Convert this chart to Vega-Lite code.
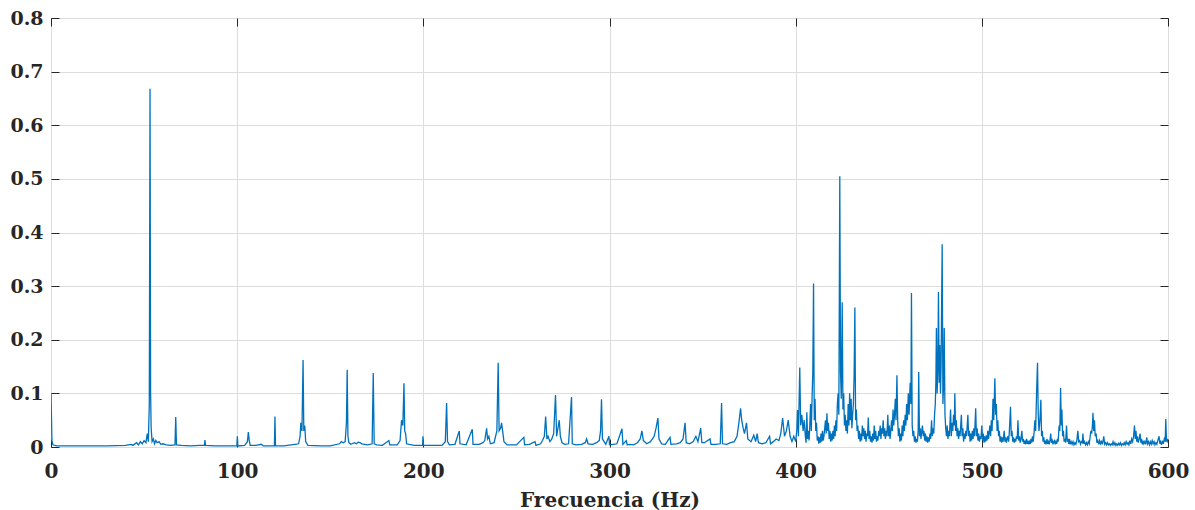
{
"$schema": "https://vega.github.io/schema/vega-lite/v6.json",
"width": 1117, "height": 429,
"autosize": {"type": "none"},
"padding": {"left": 51, "top": 18, "right": 27, "bottom": 63},
"background": "white",
"config": {"view": {"stroke": "#262626", "strokeWidth": 1}, "font": "DejaVu Serif"},
"data": {"values": [
{"f":0,"a":0.1},{"f":0.5,"a":0.012},{"f":1,"a":0.004},{"f":3,"a":0.002},{"f":10,"a":0.002},{"f":20,"a":0.002},{"f":30,"a":0.002},{"f":40,"a":0.003},{"f":43,"a":0.005},{"f":44,"a":0.003},{"f":46,"a":0.008},{"f":47,"a":0.004},{"f":48,"a":0.01},{"f":49,"a":0.006},{"f":50,"a":0.012},{"f":51,"a":0.008},{"f":51.7,"a":0.025},{"f":52.3,"a":0.01},{"f":52.8,"a":0.08},{"f":53.2,"a":0.668},{"f":53.5,"a":0.1},{"f":53.8,"a":0.035},{"f":54.3,"a":0.01},{"f":55,"a":0.015},{"f":55.6,"a":0.006},{"f":56.3,"a":0.012},{"f":57,"a":0.008},{"f":58,"a":0.01},{"f":59,"a":0.005},{"f":60,"a":0.006},{"f":62,"a":0.004},{"f":64,"a":0.003},{"f":66.6,"a":0.004},{"f":67,"a":0.056},{"f":67.4,"a":0.004},{"f":70,"a":0.003},{"f":75,"a":0.002},{"f":80,"a":0.003},{"f":82.4,"a":0.003},{"f":82.7,"a":0.013},{"f":83,"a":0.003},{"f":88,"a":0.002},{"f":95,"a":0.002},{"f":99.8,"a":0.002},{"f":100.1,"a":0.02},{"f":100.4,"a":0.002},{"f":104,"a":0.003},{"f":105.5,"a":0.01},{"f":106,"a":0.028},{"f":106.5,"a":0.012},{"f":107,"a":0.003},{"f":110,"a":0.003},{"f":113,"a":0.005},{"f":114,"a":0.002},{"f":118,"a":0.002},{"f":120,"a":0.002},{"f":120.3,"a":0.057},{"f":120.6,"a":0.002},{"f":125,"a":0.002},{"f":129,"a":0.004},{"f":131,"a":0.005},{"f":133,"a":0.006},{"f":133.8,"a":0.02},{"f":134.2,"a":0.045},{"f":134.8,"a":0.03},{"f":135.4,"a":0.162},{"f":135.8,"a":0.03},{"f":136.3,"a":0.04},{"f":136.8,"a":0.01},{"f":138,"a":0.003},{"f":145,"a":0.002},{"f":150,"a":0.002},{"f":155,"a":0.006},{"f":156,"a":0.01},{"f":157,"a":0.008},{"f":158,"a":0.01},{"f":158.7,"a":0.045},{"f":159.1,"a":0.144},{"f":159.5,"a":0.02},{"f":160,"a":0.008},{"f":161,"a":0.005},{"f":163,"a":0.008},{"f":164,"a":0.006},{"f":165,"a":0.009},{"f":166,"a":0.008},{"f":167,"a":0.006},{"f":170,"a":0.004},{"f":172.5,"a":0.006},{"f":173.1,"a":0.138},{"f":173.6,"a":0.006},{"f":175,"a":0.004},{"f":178,"a":0.003},{"f":181.5,"a":0.012},{"f":182,"a":0.004},{"f":186,"a":0.004},{"f":187.5,"a":0.012},{"f":188.3,"a":0.05},{"f":189,"a":0.04},{"f":189.6,"a":0.119},{"f":190,"a":0.03},{"f":190.5,"a":0.025},{"f":191,"a":0.006},{"f":195,"a":0.003},{"f":199.6,"a":0.003},{"f":199.8,"a":0.02},{"f":200.1,"a":0.003},{"f":205,"a":0.003},{"f":210,"a":0.003},{"f":211.8,"a":0.01},{"f":212.5,"a":0.082},{"f":213,"a":0.01},{"f":214,"a":0.004},{"f":217,"a":0.005},{"f":219.3,"a":0.03},{"f":219.7,"a":0.006},{"f":223,"a":0.004},{"f":226.3,"a":0.033},{"f":226.7,"a":0.005},{"f":230,"a":0.005},{"f":232,"a":0.008},{"f":233,"a":0.012},{"f":234,"a":0.035},{"f":234.5,"a":0.015},{"f":235.2,"a":0.02},{"f":236,"a":0.006},{"f":238,"a":0.008},{"f":239.5,"a":0.03},{"f":240.2,"a":0.157},{"f":240.7,"a":0.03},{"f":241.5,"a":0.035},{"f":242,"a":0.045},{"f":242.6,"a":0.03},{"f":243.3,"a":0.01},{"f":245,"a":0.004},{"f":250,"a":0.004},{"f":254,"a":0.018},{"f":254.4,"a":0.004},{"f":257,"a":0.005},{"f":260,"a":0.01},{"f":260.5,"a":0.003},{"f":263,"a":0.006},{"f":264,"a":0.012},{"f":265,"a":0.02},{"f":265.7,"a":0.057},{"f":266.4,"a":0.015},{"f":267,"a":0.02},{"f":268,"a":0.01},{"f":269,"a":0.015},{"f":270,"a":0.025},{"f":271,"a":0.097},{"f":271.6,"a":0.02},{"f":272.3,"a":0.035},{"f":273,"a":0.05},{"f":273.6,"a":0.02},{"f":274.5,"a":0.008},{"f":276,"a":0.005},{"f":278,"a":0.006},{"f":279.6,"a":0.093},{"f":280,"a":0.006},{"f":282,"a":0.004},{"f":285,"a":0.005},{"f":287,"a":0.008},{"f":287.7,"a":0.015},{"f":288.5,"a":0.006},{"f":291,"a":0.005},{"f":293,"a":0.008},{"f":294.5,"a":0.012},{"f":295.2,"a":0.03},{"f":295.7,"a":0.089},{"f":296.2,"a":0.015},{"f":298,"a":0.005},{"f":299.7,"a":0.02},{"f":300,"a":0.004},{"f":302,"a":0.005},{"f":304,"a":0.006},{"f":306.7,"a":0.034},{"f":307.2,"a":0.005},{"f":309,"a":0.012},{"f":309.5,"a":0.004},{"f":311,"a":0.005},{"f":313,"a":0.004},{"f":315,"a":0.008},{"f":316.5,"a":0.015},{"f":317.4,"a":0.03},{"f":318.2,"a":0.012},{"f":320,"a":0.006},{"f":322,"a":0.01},{"f":324,"a":0.02},{"f":325,"a":0.035},{"f":326,"a":0.054},{"f":326.6,"a":0.015},{"f":328,"a":0.006},{"f":330,"a":0.005},{"f":332.5,"a":0.018},{"f":333,"a":0.005},{"f":336,"a":0.006},{"f":338,"a":0.008},{"f":339.5,"a":0.015},{"f":340.6,"a":0.045},{"f":341.2,"a":0.008},{"f":343,"a":0.006},{"f":345,"a":0.01},{"f":346.4,"a":0.02},{"f":347.5,"a":0.01},{"f":349,"a":0.035},{"f":349.6,"a":0.008},{"f":351,"a":0.008},{"f":354,"a":0.015},{"f":354.5,"a":0.005},{"f":357,"a":0.005},{"f":359.5,"a":0.006},{"f":360.2,"a":0.082},{"f":360.7,"a":0.006},{"f":363,"a":0.005},{"f":365,"a":0.008},{"f":367,"a":0.01},{"f":368.5,"a":0.02},{"f":369.5,"a":0.045},{"f":370.4,"a":0.072},{"f":371,"a":0.05},{"f":371.8,"a":0.035},{"f":372.5,"a":0.025},{"f":373.6,"a":0.045},{"f":374.3,"a":0.015},{"f":376,"a":0.01},{"f":377.5,"a":0.022},{"f":378.5,"a":0.01},{"f":379.3,"a":0.025},{"f":380,"a":0.008},{"f":382,"a":0.006},{"f":384,"a":0.008},{"f":386,"a":0.02},{"f":386.5,"a":0.006},{"f":388,"a":0.01},{"f":389.5,"a":0.015},{"f":391,"a":0.012},{"f":392,"a":0.025},{"f":393,"a":0.054},{"f":394,"a":0.02},{"f":395,"a":0.03},{"f":396,"a":0.05},{"f":397,"a":0.02},{"f":398,"a":0.01},{"f":399,"a":0.02},{"f":400,"a":0.01},{"f":400.6,"a":0.03},{"f":401,"a":0.069},{"f":401.5,"a":0.02},{"f":402.2,"a":0.148},{"f":402.7,"a":0.04},{"f":403.3,"a":0.06},{"f":404,"a":0.03},{"f":404.6,"a":0.05},{"f":405.2,"a":0.02},{"f":405.6,"a":0.008},{"f":406,"a":0.065},{"f":406.4,"a":0.015},{"f":406.8,"a":0.03},{"f":407.2,"a":0.012},{"f":407.6,"a":0.04},{"f":408,"a":0.08},{"f":408.4,"a":0.03},{"f":408.8,"a":0.09},{"f":409.2,"a":0.138},{"f":409.6,"a":0.305},{"f":410,"a":0.05},{"f":410.4,"a":0.09},{"f":410.8,"a":0.03},{"f":411.2,"a":0.045},{"f":411.6,"a":0.012},{"f":412,"a":0.02},{"f":412.4,"a":0.006},{"f":412.8,"a":0.018},{"f":413.2,"a":0.008},{"f":413.6,"a":0.025},{"f":414,"a":0.01},{"f":414.4,"a":0.03},{"f":414.8,"a":0.012},{"f":415.2,"a":0.02},{"f":415.6,"a":0.035},{"f":416,"a":0.05},{"f":416.4,"a":0.025},{"f":416.8,"a":0.063},{"f":417.2,"a":0.03},{"f":417.6,"a":0.045},{"f":418,"a":0.015},{"f":418.4,"a":0.03},{"f":418.8,"a":0.01},{"f":419.2,"a":0.025},{"f":419.6,"a":0.012},{"f":420,"a":0.03},{"f":420.4,"a":0.015},{"f":420.8,"a":0.04},{"f":421.2,"a":0.02},{"f":421.6,"a":0.05},{"f":422,"a":0.03},{"f":422.4,"a":0.08},{"f":422.8,"a":0.1},{"f":423.2,"a":0.06},{"f":423.7,"a":0.505},{"f":424.1,"a":0.14},{"f":424.5,"a":0.09},{"f":425,"a":0.27},{"f":425.4,"a":0.07},{"f":425.8,"a":0.1},{"f":426.2,"a":0.04},{"f":426.6,"a":0.06},{"f":427,"a":0.03},{"f":427.4,"a":0.05},{"f":427.8,"a":0.025},{"f":428.2,"a":0.08},{"f":428.6,"a":0.04},{"f":429,"a":0.1},{"f":429.4,"a":0.05},{"f":429.8,"a":0.09},{"f":430.2,"a":0.035},{"f":430.6,"a":0.06},{"f":431,"a":0.08},{"f":431.4,"a":0.135},{"f":431.8,"a":0.26},{"f":432.2,"a":0.05},{"f":432.6,"a":0.07},{"f":433,"a":0.03},{"f":433.4,"a":0.04},{"f":433.8,"a":0.015},{"f":434.2,"a":0.03},{"f":434.6,"a":0.01},{"f":435,"a":0.025},{"f":435.4,"a":0.012},{"f":435.8,"a":0.04},{"f":436.2,"a":0.02},{"f":436.6,"a":0.035},{"f":437,"a":0.015},{"f":437.4,"a":0.03},{"f":437.8,"a":0.01},{"f":438.2,"a":0.025},{"f":438.6,"a":0.02},{"f":439,"a":0.055},{"f":439.4,"a":0.015},{"f":439.8,"a":0.03},{"f":440.2,"a":0.01},{"f":440.6,"a":0.02},{"f":441,"a":0.008},{"f":441.4,"a":0.025},{"f":441.8,"a":0.012},{"f":442.2,"a":0.04},{"f":442.6,"a":0.015},{"f":443,"a":0.03},{"f":443.4,"a":0.01},{"f":443.8,"a":0.02},{"f":444.2,"a":0.012},{"f":444.6,"a":0.03},{"f":445,"a":0.02},{"f":445.4,"a":0.04},{"f":445.8,"a":0.015},{"f":446.2,"a":0.035},{"f":446.6,"a":0.025},{"f":447,"a":0.05},{"f":447.4,"a":0.02},{"f":447.8,"a":0.035},{"f":448.2,"a":0.015},{"f":448.6,"a":0.03},{"f":449,"a":0.02},{"f":449.5,"a":0.06},{"f":449.9,"a":0.02},{"f":450.3,"a":0.04},{"f":450.7,"a":0.015},{"f":451.1,"a":0.03},{"f":451.5,"a":0.05},{"f":451.9,"a":0.03},{"f":452.3,"a":0.07},{"f":452.7,"a":0.04},{"f":453.1,"a":0.06},{"f":453.5,"a":0.09},{"f":453.9,"a":0.05},{"f":454.4,"a":0.134},{"f":454.8,"a":0.05},{"f":455.2,"a":0.02},{"f":455.6,"a":0.035},{"f":456,"a":0.01},{"f":456.4,"a":0.025},{"f":456.8,"a":0.012},{"f":457.2,"a":0.04},{"f":457.6,"a":0.02},{"f":458,"a":0.05},{"f":458.4,"a":0.03},{"f":458.8,"a":0.06},{"f":459.2,"a":0.04},{"f":459.6,"a":0.08},{"f":460,"a":0.05},{"f":460.5,"a":0.1},{"f":460.9,"a":0.06},{"f":461.5,"a":0.12},{"f":461.9,"a":0.08},{"f":462.2,"a":0.287},{"f":462.6,"a":0.04},{"f":463,"a":0.02},{"f":463.4,"a":0.03},{"f":463.8,"a":0.01},{"f":464.2,"a":0.02},{"f":464.6,"a":0.008},{"f":465,"a":0.015},{"f":465.4,"a":0.01},{"f":465.8,"a":0.03},{"f":466.1,"a":0.14},{"f":466.5,"a":0.02},{"f":466.9,"a":0.035},{"f":467.3,"a":0.015},{"f":467.7,"a":0.03},{"f":468.1,"a":0.04},{"f":468.5,"a":0.02},{"f":468.9,"a":0.03},{"f":469.3,"a":0.012},{"f":469.7,"a":0.025},{"f":470.1,"a":0.01},{"f":470.5,"a":0.02},{"f":470.9,"a":0.008},{"f":471.3,"a":0.018},{"f":471.7,"a":0.01},{"f":472.1,"a":0.025},{"f":472.5,"a":0.015},{"f":473,"a":0.05},{"f":473.4,"a":0.02},{"f":473.8,"a":0.035},{"f":474.2,"a":0.025},{"f":474.6,"a":0.06},{"f":475,"a":0.08},{"f":475.3,"a":0.12},{"f":475.6,"a":0.222},{"f":476,"a":0.1},{"f":476.4,"a":0.15},{"f":476.7,"a":0.289},{"f":477.1,"a":0.12},{"f":477.4,"a":0.19},{"f":477.8,"a":0.1},{"f":478.1,"a":0.15},{"f":478.7,"a":0.378},{"f":479.1,"a":0.08},{"f":479.5,"a":0.12},{"f":479.8,"a":0.222},{"f":480.2,"a":0.06},{"f":480.6,"a":0.035},{"f":481,"a":0.02},{"f":481.4,"a":0.04},{"f":481.8,"a":0.015},{"f":482.2,"a":0.03},{"f":482.6,"a":0.02},{"f":483.2,"a":0.07},{"f":483.6,"a":0.02},{"f":484,"a":0.045},{"f":484.4,"a":0.03},{"f":484.8,"a":0.06},{"f":485.2,"a":0.04},{"f":485.5,"a":0.1},{"f":485.9,"a":0.03},{"f":486.3,"a":0.05},{"f":486.7,"a":0.02},{"f":487.1,"a":0.035},{"f":487.5,"a":0.015},{"f":487.9,"a":0.03},{"f":488.3,"a":0.02},{"f":489,"a":0.06},{"f":489.4,"a":0.02},{"f":489.8,"a":0.035},{"f":490.2,"a":0.01},{"f":490.6,"a":0.025},{"f":491,"a":0.015},{"f":491.4,"a":0.03},{"f":491.8,"a":0.02},{"f":492.5,"a":0.06},{"f":492.9,"a":0.02},{"f":493.3,"a":0.03},{"f":493.7,"a":0.01},{"f":494.1,"a":0.025},{"f":494.5,"a":0.012},{"f":494.9,"a":0.03},{"f":495.3,"a":0.015},{"f":495.7,"a":0.035},{"f":496.1,"a":0.02},{"f":496.7,"a":0.072},{"f":497.1,"a":0.02},{"f":497.5,"a":0.035},{"f":497.9,"a":0.012},{"f":498.3,"a":0.025},{"f":498.7,"a":0.01},{"f":499.1,"a":0.02},{"f":499.5,"a":0.015},{"f":500,"a":0.04},{"f":500.4,"a":0.012},{"f":500.8,"a":0.025},{"f":501.2,"a":0.008},{"f":501.6,"a":0.02},{"f":502,"a":0.01},{"f":502.4,"a":0.022},{"f":502.8,"a":0.012},{"f":503.2,"a":0.03},{"f":503.6,"a":0.015},{"f":504.3,"a":0.04},{"f":504.7,"a":0.02},{"f":505.1,"a":0.05},{"f":505.5,"a":0.03},{"f":506,"a":0.09},{"f":506.4,"a":0.05},{"f":507,"a":0.128},{"f":507.4,"a":0.06},{"f":507.8,"a":0.08},{"f":508.2,"a":0.03},{"f":508.6,"a":0.05},{"f":509,"a":0.02},{"f":509.4,"a":0.03},{"f":509.8,"a":0.01},{"f":510.2,"a":0.02},{"f":510.6,"a":0.008},{"f":511,"a":0.018},{"f":511.4,"a":0.01},{"f":512,"a":0.03},{"f":512.4,"a":0.01},{"f":512.8,"a":0.018},{"f":513.2,"a":0.008},{"f":513.6,"a":0.015},{"f":514,"a":0.02},{"f":514.4,"a":0.01},{"f":514.8,"a":0.03},{"f":515.4,"a":0.075},{"f":515.8,"a":0.02},{"f":516.2,"a":0.03},{"f":516.6,"a":0.01},{"f":517,"a":0.018},{"f":517.4,"a":0.008},{"f":517.8,"a":0.015},{"f":518.2,"a":0.01},{"f":518.6,"a":0.02},{"f":519,"a":0.015},{"f":519.4,"a":0.05},{"f":519.8,"a":0.012},{"f":520.2,"a":0.02},{"f":520.6,"a":0.008},{"f":521,"a":0.015},{"f":521.5,"a":0.03},{"f":521.9,"a":0.01},{"f":522.3,"a":0.015},{"f":522.7,"a":0.006},{"f":523.1,"a":0.012},{"f":523.5,"a":0.005},{"f":524,"a":0.015},{"f":524.4,"a":0.006},{"f":524.8,"a":0.012},{"f":525.2,"a":0.005},{"f":525.6,"a":0.01},{"f":526,"a":0.006},{"f":526.4,"a":0.015},{"f":526.8,"a":0.008},{"f":527.2,"a":0.02},{"f":527.6,"a":0.01},{"f":528,"a":0.025},{"f":528.5,"a":0.05},{"f":528.9,"a":0.03},{"f":529.4,"a":0.1},{"f":529.9,"a":0.157},{"f":530.3,"a":0.06},{"f":530.7,"a":0.03},{"f":531.2,"a":0.05},{"f":531.7,"a":0.088},{"f":532.1,"a":0.02},{"f":532.5,"a":0.03},{"f":532.9,"a":0.01},{"f":533.3,"a":0.018},{"f":533.7,"a":0.006},{"f":534.1,"a":0.012},{"f":534.5,"a":0.005},{"f":535,"a":0.015},{"f":535.4,"a":0.006},{"f":535.8,"a":0.01},{"f":536.2,"a":0.005},{"f":536.6,"a":0.012},{"f":537,"a":0.025},{"f":537.4,"a":0.008},{"f":537.8,"a":0.012},{"f":538.2,"a":0.005},{"f":538.6,"a":0.01},{"f":539,"a":0.012},{"f":539.4,"a":0.005},{"f":539.8,"a":0.01},{"f":540.2,"a":0.006},{"f":540.6,"a":0.015},{"f":541,"a":0.01},{"f":541.5,"a":0.04},{"f":541.9,"a":0.03},{"f":542.3,"a":0.11},{"f":542.7,"a":0.04},{"f":543,"a":0.07},{"f":543.4,"a":0.02},{"f":543.8,"a":0.03},{"f":544.2,"a":0.01},{"f":544.6,"a":0.015},{"f":545,"a":0.008},{"f":545.5,"a":0.04},{"f":545.9,"a":0.01},{"f":546.3,"a":0.015},{"f":546.7,"a":0.006},{"f":547.1,"a":0.015},{"f":547.5,"a":0.005},{"f":548,"a":0.01},{"f":548.5,"a":0.005},{"f":549,"a":0.01},{"f":549.5,"a":0.004},{"f":550,"a":0.008},{"f":550.5,"a":0.005},{"f":551,"a":0.012},{"f":551.6,"a":0.03},{"f":552,"a":0.01},{"f":552.5,"a":0.012},{"f":553,"a":0.005},{"f":553.5,"a":0.01},{"f":554,"a":0.008},{"f":554.3,"a":0.025},{"f":554.7,"a":0.006},{"f":555.2,"a":0.01},{"f":555.7,"a":0.004},{"f":556.2,"a":0.008},{"f":556.7,"a":0.004},{"f":557.2,"a":0.01},{"f":557.7,"a":0.006},{"f":558.2,"a":0.02},{"f":558.6,"a":0.03},{"f":559,"a":0.025},{"f":559.4,"a":0.04},{"f":559.7,"a":0.064},{"f":560.1,"a":0.03},{"f":560.5,"a":0.05},{"f":560.9,"a":0.02},{"f":561.4,"a":0.025},{"f":561.8,"a":0.008},{"f":562.3,"a":0.012},{"f":562.8,"a":0.005},{"f":563.3,"a":0.012},{"f":563.8,"a":0.006},{"f":564.3,"a":0.01},{"f":564.8,"a":0.005},{"f":565.5,"a":0.02},{"f":566,"a":0.005},{"f":566.5,"a":0.008},{"f":567,"a":0.004},{"f":567.5,"a":0.008},{"f":568,"a":0.004},{"f":568.5,"a":0.006},{"f":569,"a":0.003},{"f":569.5,"a":0.006},{"f":570,"a":0.004},{"f":570.5,"a":0.01},{"f":571,"a":0.004},{"f":571.5,"a":0.008},{"f":572,"a":0.003},{"f":572.5,"a":0.006},{"f":573,"a":0.003},{"f":573.5,"a":0.007},{"f":574,"a":0.004},{"f":574.5,"a":0.008},{"f":575,"a":0.003},{"f":575.5,"a":0.006},{"f":576,"a":0.004},{"f":576.5,"a":0.008},{"f":577,"a":0.004},{"f":577.5,"a":0.01},{"f":578,"a":0.005},{"f":578.5,"a":0.008},{"f":579,"a":0.004},{"f":579.5,"a":0.012},{"f":580,"a":0.006},{"f":580.5,"a":0.015},{"f":581,"a":0.01},{"f":581.5,"a":0.02},{"f":582,"a":0.04},{"f":582.4,"a":0.015},{"f":582.8,"a":0.03},{"f":583.2,"a":0.01},{"f":583.6,"a":0.02},{"f":584,"a":0.008},{"f":584.5,"a":0.015},{"f":585,"a":0.025},{"f":585.4,"a":0.008},{"f":585.8,"a":0.015},{"f":586.2,"a":0.005},{"f":586.6,"a":0.012},{"f":587,"a":0.006},{"f":587.5,"a":0.01},{"f":588,"a":0.005},{"f":588.6,"a":0.018},{"f":589,"a":0.006},{"f":589.5,"a":0.01},{"f":590,"a":0.004},{"f":590.5,"a":0.01},{"f":591,"a":0.005},{"f":591.5,"a":0.012},{"f":592,"a":0.006},{"f":592.5,"a":0.01},{"f":593,"a":0.004},{"f":593.5,"a":0.008},{"f":594,"a":0.005},{"f":594.5,"a":0.012},{"f":595.2,"a":0.02},{"f":595.6,"a":0.006},{"f":596,"a":0.01},{"f":596.5,"a":0.004},{"f":597,"a":0.012},{"f":597.5,"a":0.006},{"f":598,"a":0.015},{"f":598.5,"a":0.01},{"f":598.8,"a":0.052},{"f":599.2,"a":0.01},{"f":599.6,"a":0.015},{"f":600,"a":0.008}
]},
"layer": [
{
"mark": {"type": "line", "color": "#0072BD", "strokeWidth": 1.3, "clip": true},
"encoding": {
"x": {"field": "f", "type": "quantitative", "scale": {"domain": [0, 600], "nice": false, "zero": false},
"axis": {"orient": "bottom", "values": [0,100,200,300,400,500,600], "title": "Frecuencia (Hz)", "titleFont": "DejaVu Serif", "titleFontSize": 20, "titleFontWeight": "bold", "titleColor": "#262626", "titlePadding": 9,
"labelFont": "DejaVu Serif", "labelFontSize": 20, "labelFontWeight": "bold", "labelColor": "#262626", "labelPadding": 22, "labelFlush": false,
"tickSize": -8, "tickColor": "#262626", "domain": false, "grid": true, "gridColor": "#dcdcdc", "gridWidth": 1}},
"y": {"field": "a", "type": "quantitative", "scale": {"domain": [0, 0.8], "nice": false},
"axis": {"orient": "left", "values": [0,0.1,0.2,0.3,0.4,0.5,0.6,0.7,0.8], "format": ".1~f", "title": null,
"labelFont": "DejaVu Serif", "labelFontSize": 19, "labelFontWeight": "bold", "labelColor": "#262626", "labelPadding": 16, "labelFlush": false,
"tickSize": -8, "tickColor": "#262626", "domain": false, "grid": true, "gridColor": "#dcdcdc", "gridWidth": 1}}
}
},
{
"mark": {"type": "line", "strokeOpacity": 0},
"encoding": {
"x": {"field": "f", "type": "quantitative", "axis": {"orient": "top", "values": [0,100,200,300,400,500,600], "labels": false, "title": null, "tickSize": -8, "tickColor": "#262626", "domain": false, "grid": false}},
"y": {"field": "a", "type": "quantitative", "axis": {"orient": "right", "values": [0,0.1,0.2,0.3,0.4,0.5,0.6,0.7,0.8], "labels": false, "title": null, "tickSize": -8, "tickColor": "#262626", "domain": false, "grid": false}}
}
}
],
"resolve": {"axis": {"x": "independent", "y": "independent"}}
}
